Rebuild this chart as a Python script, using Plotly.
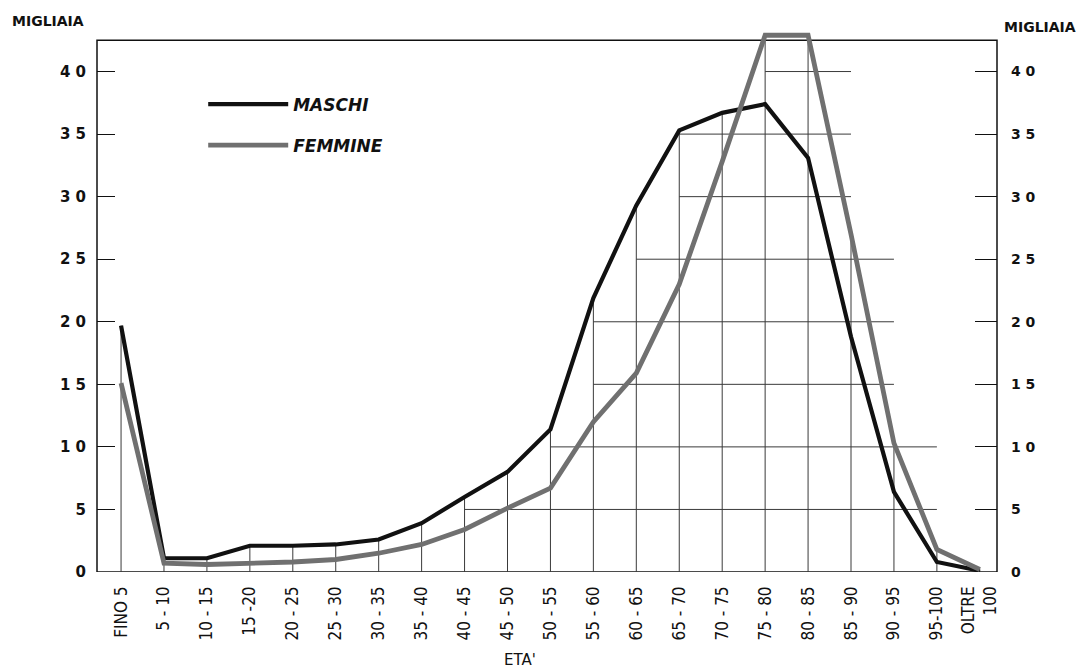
import math
import plotly.graph_objects as go

# ---- data -------------------------------------------------------------
CATEGORIES = ["FINO 5", "5-10", "10-15", "15-20", "20-25", "25-30", "30-35",
              "35-40", "40-45", "45-50", "50-55", "55-60", "60-65", "65-70",
              "70-75", "75-80", "80-85", "85-90", "90-95", "95-100", "OLTRE 100"]
CAT_LABELS = ["FINO 5", "5 - 10", "10 - 15", "15 -20", "20 - 25", "25 - 30", "30 - 35",
              "35 - 40", "40 - 45", "45 - 50", "50 - 55", "55 - 60", "60 - 65", "65 - 70",
              "70 - 75", "75 - 80", "80 - 85", "85 - 90", "90 - 95", "95-100", "OLTRE<br>100"]
MASCHI = [19.7, 1.1, 1.1, 2.1, 2.1, 2.2, 2.6, 3.9, 6.0, 8.0, 11.4, 21.9,
          29.3, 35.3, 36.7, 37.4, 33.1, 18.8, 6.4, 0.8, 0.1]
FEMMINE = [15.1, 0.7, 0.6, 0.7, 0.8, 1.0, 1.5, 2.2, 3.4, 5.1, 6.7, 12.0,
           15.9, 23.0, 32.8, 42.9, 42.9, 27.0, 10.3, 1.8, 0.2]
Y_TICKS = [0, 5, 10, 15, 20, 25, 30, 35, 40]
Y_TICK_TEXT = ["0", "5", "1 0", "1 5", "2 0", "2 5", "3 0", "3 5", "4 0"]

N = len(CATEGORIES)
X = list(range(N))
FRAME_TOP = 42.5     # top border of the drawing frame
Y_MAX = 43.4         # a little head-room so the peak can rise above the frame
X_RANGE = [-0.56, N - 1 + 0.4]

FONT = "DejaVu Sans"
FONT_C = "DejaVu Sans Condensed"
INK = "#111111"
LINE_DARK = "#3a3a3a"

# the page body keeps its default 8px margin, so the figure is sized to fit
PAGE_OFFSET = 8
W, H = 1089 - PAGE_OFFSET, 671 - PAGE_OFFSET

fig = go.Figure()
fig.add_trace(go.Scatter(
    x=X, y=MASCHI, mode="lines", name="MASCHI",
    line=dict(color=INK, width=4.2), legendgroup="m"))
fig.add_trace(go.Scatter(
    x=X, y=FEMMINE, mode="lines", name="FEMMINE",
    line=dict(color="#707070", width=4.8), legendgroup="f"))
# invisible trace keeps the right-hand axis drawn
fig.add_trace(go.Scatter(x=[None], y=[None], yaxis="y2", showlegend=False,
                         hoverinfo="skip"))

# ---- frame and hand-drawn style grid, derived from the data envelope ---
shapes = [dict(type="rect", xref="paper", yref="y", x0=0, x1=1, y0=0,
               y1=FRAME_TOP, line=dict(color=INK, width=1.5), layer="below")]
env = [max(a, b) for a, b in zip(MASCHI, FEMMINE)]
for i in X:
    shapes.append(dict(type="line", xref="x", yref="y", x0=i, x1=i, y0=0,
                       y1=min(env[i], FRAME_TOP),
                       line=dict(color=LINE_DARK, width=1), layer="below"))


def crossings(level):
    pts = []
    for i in range(1, N - 1):
        a, b = env[i], env[i + 1]
        if (a - level) * (b - level) < 0:
            pts.append(i + (level - a) / (b - a))
    return pts


for lvl in Y_TICKS[1:]:
    c = crossings(lvl)
    if len(c) >= 2:
        x0 = math.ceil(c[0])
        x1 = min(N - 1, math.floor(c[-1]) + 1)
        shapes.append(dict(type="line", xref="x", yref="y", x0=x0, x1=x1,
                           y0=lvl, y1=lvl,
                           line=dict(color=LINE_DARK, width=1), layer="below"))

fig.update_layout(
    width=W, height=H,
    margin=dict(l=97 - PAGE_OFFSET, r=92, t=29 - PAGE_OFFSET, b=99,
                autoexpand=False),
    paper_bgcolor="#ffffff", plot_bgcolor="#ffffff",
    font=dict(family=FONT, color=INK),
    shapes=shapes,
    showlegend=True,
    legend=dict(x=0.118, y=0.894, xanchor="left", yanchor="top",
                bgcolor="rgba(0,0,0,0)", itemwidth=80, tracegroupgap=16,
                font=dict(family=FONT, size=17, style="italic", weight="bold",
                          color=INK)),
    xaxis=dict(range=X_RANGE, tickmode="array", tickvals=X, ticktext=CAT_LABELS,
               tickangle=-90, ticks="", showgrid=False, zeroline=False,
               showline=False, automargin=False, ticklabelstandoff=10,
               tickfont=dict(family=FONT_C, size=17, color=INK)),
    yaxis=dict(range=[0, Y_MAX], tickmode="array", tickvals=Y_TICKS,
               ticktext=Y_TICK_TEXT, ticks="inside", ticklen=18, tickwidth=1.2,
               tickcolor=INK, showgrid=False, zeroline=False, showline=False,
               automargin=False, ticklabelstandoff=10,
               tickfont=dict(family=FONT, size=15, weight="bold", color=INK)),
    yaxis2=dict(range=[0, Y_MAX], overlaying="y", side="right", tickmode="array",
                tickvals=Y_TICKS, ticktext=Y_TICK_TEXT, ticks="inside",
                ticklen=22, tickwidth=1.2, tickcolor=INK, showgrid=False,
                zeroline=False, showline=False, automargin=False,
                ticklabelstandoff=13,
                tickfont=dict(family=FONT, size=14, weight="bold", color=INK)),
    annotations=[
        dict(text="<b>MIGLIAIA</b>", xref="paper", yref="paper", x=-0.097,
             y=1.0, yshift=8, xanchor="left", yanchor="middle", showarrow=False,
             font=dict(family=FONT, size=14, color=INK)),
        dict(text="<b>MIGLIAIA</b>", xref="paper", yref="paper", x=1.006,
             y=1.0, yshift=2, xanchor="left", yanchor="middle", showarrow=False,
             font=dict(family=FONT, size=14, color=INK)),
        dict(text="ETA'", xref="paper", yref="paper", x=0.47, y=-0.162,
             xanchor="center", yanchor="middle", showarrow=False,
             font=dict(family=FONT, size=15, color=INK)),
    ],
)

fig.write_html("out.html")
